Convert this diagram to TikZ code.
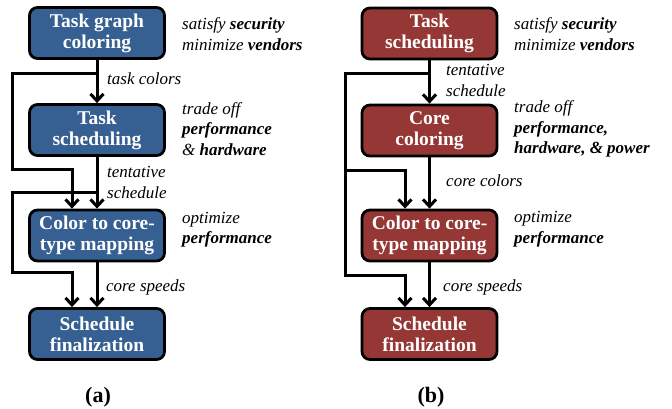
\documentclass[tikz,border=0pt]{standalone}
\usepackage{fontspec}
\setmainfont{Liberation Serif}
\usetikzlibrary{arrows.meta}
\definecolor{boxblue}{RGB}{55,96,146}
\definecolor{boxred}{RGB}{149,55,53}
\begin{document}
\begin{tikzpicture}[x=1pt,y=-1pt,
  stagebox/.style={draw=black, line width=2.8pt, rounded corners=8pt, minimum width=135pt, minimum height=51pt, text=white, font=\fontsize{19.5}{21}\selectfont\bfseries, align=center, inner sep=0pt},
  lbl/.style={font=\fontsize{17}{20.5}\selectfont\itshape, align=left, anchor=west, inner sep=0pt},
  captext/.style={font=\fontsize{22}{24}\selectfont\bfseries, inner sep=0pt},
  arr/.style={line width=3pt, -{Straight Barb[length=7pt,width=13pt]}}]
\useasboundingbox (0,0) rectangle (672,409);
% left panel
\node[stagebox, fill=boxblue] (a1) at (97,33) {Task graph\\coloring};
\node[stagebox, fill=boxblue] (a2) at (97,130) {Task\\scheduling};
\node[stagebox, fill=boxblue] (a3) at (97,235.5) {Color to core-\\type mapping};
\node[stagebox, fill=boxblue] (a4) at (97,334) {Schedule\\finalization};
\draw[arr] (a1) -- (a2);
\draw[arr] (a2) -- (a3);
\draw[arr] (a3) -- (a4);
\coordinate (aj1) at (97,74);
\coordinate (ao1) at (12,74);
\coordinate (as1) at (72,169);
\coordinate (aj2) at (97,192);
\coordinate (ao2) at (12,192);
\coordinate (as2) at (72,272);
\draw[arr] (aj1) -- (ao1) |- (as1) -- (as1 |- a3.north);
\draw[arr] (aj2) -- (ao2) |- (as2) -- (as2 |- a4.north);
\node[lbl] (la1) at (182,34) {satisfy \textbf{security}\\minimize \textbf{vendors}};
\node[lbl] (la2) at (107,79) {task colors};
\node[lbl] (la3) at (182,129) {trade off\\\textbf{performance}\\\& \textbf{hardware}};
\node[lbl] (la4) at (107,182.5) {tentative\\schedule};
\node[lbl] (la5) at (182,229.5) {optimize\\\textbf{performance}};
\node[lbl] (la6) at (106,287) {core speeds};
\node[captext] (capa) at (98,397) {(a)};
% right panel
\node[stagebox, fill=boxred] (b1) at (429.5,33.5) {Task\\scheduling};
\node[stagebox, fill=boxred] (b2) at (429.5,130.5) {Core\\coloring};
\node[stagebox, fill=boxred] (b3) at (429.5,235.5) {Color to core-\\type mapping};
\node[stagebox, fill=boxred] (b4) at (429.5,334) {Schedule\\finalization};
\draw[arr] (b1) -- (b2);
\draw[arr] (b2) -- (b3);
\draw[arr] (b3) -- (b4);
\coordinate (bj) at (429.5,74);
\coordinate (bo) at (345,74);
\coordinate (bs1) at (405,170);
\coordinate (bs2) at (405,275);
\draw[arr] (bj) -- (bo) |- (bs2) -- (bs2 |- b4.north);
\draw[arr] (bo |- bs1) -- (bs1) -- (bs1 |- b3.north);
\node[lbl] (lb1) at (514,34) {satisfy \textbf{security}\\minimize \textbf{vendors}};
\node[lbl] (lb2) at (446,80.5) {tentative\\schedule};
\node[lbl] (lb3) at (514,129) {trade off\\\textbf{performance,}\\\textbf{hardware, \& power}};
\node[lbl] (lb4) at (446,181) {core colors};
\node[lbl] (lb5) at (514,229) {optimize\\\textbf{performance}};
\node[lbl] (lb6) at (443,287) {core speeds};
\node[captext] (capb) at (431,397) {(b)};
\end{tikzpicture}
\end{document}
